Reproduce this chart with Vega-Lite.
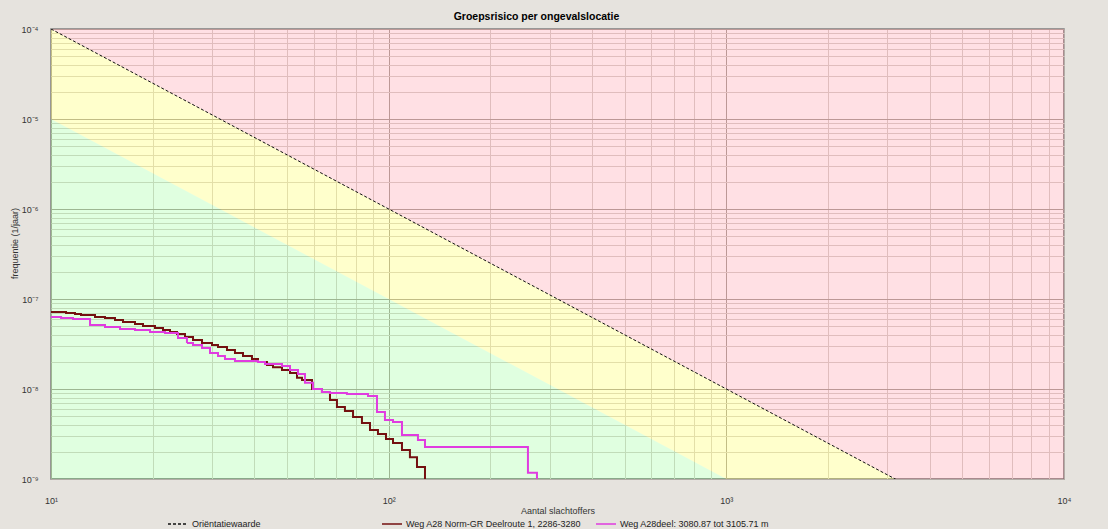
{
  "$schema": "https://vega.github.io/schema/vega-lite/v6.json",
  "width": 1013,
  "height": 450,
  "autosize": {"type": "none"},
  "padding": {"left": 51, "top": 29, "right": 44, "bottom": 50},
  "background": "#e6e3de",
  "config": {
    "font": "Liberation Sans",
    "view": {"fill": "white", "stroke": "#7f7f7f", "strokeWidth": 1.5}
  },
  "title": {
    "text": "Groepsrisico per ongevalslocatie",
    "fontSize": 10.5,
    "fontWeight": "bold",
    "font": "Liberation Sans",
    "color": "#000000",
    "anchor": "middle",
    "dx": -21,
    "offset": 3
  },
  "datasets": {
    "zones": [
      {"zone": "rood", "N": 10, "F": 1e-4, "F2": 1e-4},
      {"zone": "rood", "N": 10000, "F": 1e-4, "F2": 1e-10},
      {"zone": "geel", "N": 10, "F": 1e-4, "F2": 1e-5},
      {"zone": "geel", "N": 10000, "F": 1e-10, "F2": 1e-11},
      {"zone": "groen", "N": 10, "F": 1e-5, "F2": 1e-12},
      {"zone": "groen", "N": 10000, "F": 1e-11, "F2": 1e-12}
    ],
    "norm": [
      {"serie": "Oriëntatiewaarde", "N": 10, "F": 1e-4},
      {"serie": "Oriëntatiewaarde", "N": 10000, "F": 1e-10}
    ],
    "curves": [
      {"serie": "Weg A28 Norm-GR Deelroute 1, 2286-3280", "N": 10, "F": 7.17e-8},
      {"serie": "Weg A28 Norm-GR Deelroute 1, 2286-3280", "N": 11.08, "F": 6.99e-8},
      {"serie": "Weg A28 Norm-GR Deelroute 1, 2286-3280", "N": 11.78, "F": 6.81e-8},
      {"serie": "Weg A28 Norm-GR Deelroute 1, 2286-3280", "N": 12.27, "F": 6.64e-8},
      {"serie": "Weg A28 Norm-GR Deelroute 1, 2286-3280", "N": 13.5, "F": 6.31e-8},
      {"serie": "Weg A28 Norm-GR Deelroute 1, 2286-3280", "N": 14.45, "F": 6.15e-8},
      {"serie": "Weg A28 Norm-GR Deelroute 1, 2286-3280", "N": 15.47, "F": 5.84e-8},
      {"serie": "Weg A28 Norm-GR Deelroute 1, 2286-3280", "N": 16.34, "F": 5.55e-8},
      {"serie": "Weg A28 Norm-GR Deelroute 1, 2286-3280", "N": 17.73, "F": 5.27e-8},
      {"serie": "Weg A28 Norm-GR Deelroute 1, 2286-3280", "N": 18.73, "F": 5.01e-8},
      {"serie": "Weg A28 Norm-GR Deelroute 1, 2286-3280", "N": 20.32, "F": 4.76e-8},
      {"serie": "Weg A28 Norm-GR Deelroute 1, 2286-3280", "N": 21.46, "F": 4.52e-8},
      {"serie": "Weg A28 Norm-GR Deelroute 1, 2286-3280", "N": 22.51, "F": 4.3e-8},
      {"serie": "Weg A28 Norm-GR Deelroute 1, 2286-3280", "N": 23.61, "F": 4.08e-8},
      {"serie": "Weg A28 Norm-GR Deelroute 1, 2286-3280", "N": 24.94, "F": 3.78e-8},
      {"serie": "Weg A28 Norm-GR Deelroute 1, 2286-3280", "N": 26.34, "F": 3.5e-8},
      {"serie": "Weg A28 Norm-GR Deelroute 1, 2286-3280", "N": 28.0, "F": 3.24e-8},
      {"serie": "Weg A28 Norm-GR Deelroute 1, 2286-3280", "N": 29.98, "F": 3.08e-8},
      {"serie": "Weg A28 Norm-GR Deelroute 1, 2286-3280", "N": 31.23, "F": 2.93e-8},
      {"serie": "Weg A28 Norm-GR Deelroute 1, 2286-3280", "N": 33.2, "F": 2.71e-8},
      {"serie": "Weg A28 Norm-GR Deelroute 1, 2286-3280", "N": 35.06, "F": 2.51e-8},
      {"serie": "Weg A28 Norm-GR Deelroute 1, 2286-3280", "N": 37.03, "F": 2.33e-8},
      {"serie": "Weg A28 Norm-GR Deelroute 1, 2286-3280", "N": 39.37, "F": 2.15e-8},
      {"serie": "Weg A28 Norm-GR Deelroute 1, 2286-3280", "N": 41.02, "F": 2.0e-8},
      {"serie": "Weg A28 Norm-GR Deelroute 1, 2286-3280", "N": 43.61, "F": 1.85e-8},
      {"serie": "Weg A28 Norm-GR Deelroute 1, 2286-3280", "N": 45.44, "F": 1.75e-8},
      {"serie": "Weg A28 Norm-GR Deelroute 1, 2286-3280", "N": 48.31, "F": 1.63e-8},
      {"serie": "Weg A28 Norm-GR Deelroute 1, 2286-3280", "N": 51.03, "F": 1.51e-8},
      {"serie": "Weg A28 Norm-GR Deelroute 1, 2286-3280", "N": 53.52, "F": 1.33e-8},
      {"serie": "Weg A28 Norm-GR Deelroute 1, 2286-3280", "N": 55.37, "F": 1.26e-8},
      {"serie": "Weg A28 Norm-GR Deelroute 1, 2286-3280", "N": 59.29, "F": 1.0e-8},
      {"serie": "Weg A28 Norm-GR Deelroute 1, 2286-3280", "N": 63.45, "F": 9.26e-9},
      {"serie": "Weg A28 Norm-GR Deelroute 1, 2286-3280", "N": 67.02, "F": 7.54e-9},
      {"serie": "Weg A28 Norm-GR Deelroute 1, 2286-3280", "N": 70.28, "F": 6.31e-9},
      {"serie": "Weg A28 Norm-GR Deelroute 1, 2286-3280", "N": 74.21, "F": 5.69e-9},
      {"serie": "Weg A28 Norm-GR Deelroute 1, 2286-3280", "N": 78.43, "F": 4.89e-9},
      {"serie": "Weg A28 Norm-GR Deelroute 1, 2286-3280", "N": 83.34, "F": 4.19e-9},
      {"serie": "Weg A28 Norm-GR Deelroute 1, 2286-3280", "N": 88.04, "F": 3.5e-9},
      {"serie": "Weg A28 Norm-GR Deelroute 1, 2286-3280", "N": 92.96, "F": 3.16e-9},
      {"serie": "Weg A28 Norm-GR Deelroute 1, 2286-3280", "N": 98.18, "F": 2.78e-9},
      {"serie": "Weg A28 Norm-GR Deelroute 1, 2286-3280", "N": 103.0, "F": 2.51e-9},
      {"serie": "Weg A28 Norm-GR Deelroute 1, 2286-3280", "N": 109.5, "F": 2.1e-9},
      {"serie": "Weg A28 Norm-GR Deelroute 1, 2286-3280", "N": 115.6, "F": 1.75e-9},
      {"serie": "Weg A28 Norm-GR Deelroute 1, 2286-3280", "N": 121.3, "F": 1.36e-9},
      {"serie": "Weg A28 Norm-GR Deelroute 1, 2286-3280", "N": 128.1, "F": 1e-10},
      {"serie": "Weg A28deel: 3080.87 tot 3105.71 m", "N": 10, "F": 6.31e-8},
      {"serie": "Weg A28deel: 3080.87 tot 3105.71 m", "N": 10.71, "F": 6.15e-8},
      {"serie": "Weg A28deel: 3080.87 tot 3105.71 m", "N": 11.62, "F": 5.99e-8},
      {"serie": "Weg A28deel: 3080.87 tot 3105.71 m", "N": 13.05, "F": 5.14e-8},
      {"serie": "Weg A28deel: 3080.87 tot 3105.71 m", "N": 14.45, "F": 4.89e-8},
      {"serie": "Weg A28deel: 3080.87 tot 3105.71 m", "N": 16.01, "F": 4.64e-8},
      {"serie": "Weg A28deel: 3080.87 tot 3105.71 m", "N": 17.73, "F": 4.52e-8},
      {"serie": "Weg A28deel: 3080.87 tot 3105.71 m", "N": 19.64, "F": 4.3e-8},
      {"serie": "Weg A28deel: 3080.87 tot 3105.71 m", "N": 21.76, "F": 4.19e-8},
      {"serie": "Weg A28deel: 3080.87 tot 3105.71 m", "N": 23.77, "F": 3.69e-8},
      {"serie": "Weg A28deel: 3080.87 tot 3105.71 m", "N": 25.27, "F": 3.24e-8},
      {"serie": "Weg A28deel: 3080.87 tot 3105.71 m", "N": 26.34, "F": 3.08e-8},
      {"serie": "Weg A28deel: 3080.87 tot 3105.71 m", "N": 28.0, "F": 2.85e-8},
      {"serie": "Weg A28deel: 3080.87 tot 3105.71 m", "N": 29.57, "F": 2.51e-8},
      {"serie": "Weg A28deel: 3080.87 tot 3105.71 m", "N": 31.23, "F": 2.33e-8},
      {"serie": "Weg A28deel: 3080.87 tot 3105.71 m", "N": 32.75, "F": 2.15e-8},
      {"serie": "Weg A28deel: 3080.87 tot 3105.71 m", "N": 35.06, "F": 2.05e-8},
      {"serie": "Weg A28deel: 3080.87 tot 3105.71 m", "N": 41.02, "F": 2.0e-8},
      {"serie": "Weg A28deel: 3080.87 tot 3105.71 m", "N": 43.02, "F": 1.9e-8},
      {"serie": "Weg A28deel: 3080.87 tot 3105.71 m", "N": 48.31, "F": 1.8e-8},
      {"serie": "Weg A28deel: 3080.87 tot 3105.71 m", "N": 51.03, "F": 1.63e-8},
      {"serie": "Weg A28deel: 3080.87 tot 3105.71 m", "N": 53.88, "F": 1.47e-8},
      {"serie": "Weg A28deel: 3080.87 tot 3105.71 m", "N": 56.51, "F": 1.17e-8},
      {"serie": "Weg A28deel: 3080.87 tot 3105.71 m", "N": 59.69, "F": 1.0e-8},
      {"serie": "Weg A28deel: 3080.87 tot 3105.71 m", "N": 63.45, "F": 9.26e-9},
      {"serie": "Weg A28deel: 3080.87 tot 3105.71 m", "N": 67.02, "F": 9.03e-9},
      {"serie": "Weg A28deel: 3080.87 tot 3105.71 m", "N": 75.23, "F": 8.8e-9},
      {"serie": "Weg A28deel: 3080.87 tot 3105.71 m", "N": 86.85, "F": 8.36e-9},
      {"serie": "Weg A28deel: 3080.87 tot 3105.71 m", "N": 92.34, "F": 5.55e-9},
      {"serie": "Weg A28deel: 3080.87 tot 3105.71 m", "N": 97.5, "F": 4.52e-9},
      {"serie": "Weg A28deel: 3080.87 tot 3105.71 m", "N": 103.0, "F": 4.3e-9},
      {"serie": "Weg A28deel: 3080.87 tot 3105.71 m", "N": 109.5, "F": 3.08e-9},
      {"serie": "Weg A28deel: 3080.87 tot 3105.71 m", "N": 122.1, "F": 2.71e-9},
      {"serie": "Weg A28deel: 3080.87 tot 3105.71 m", "N": 128.1, "F": 2.27e-9},
      {"serie": "Weg A28deel: 3080.87 tot 3105.71 m", "N": 258.5, "F": 1.17e-9},
      {"serie": "Weg A28deel: 3080.87 tot 3105.71 m", "N": 274.9, "F": 1e-10}
    ]
  },
  "encoding": {
    "x": {
      "field": "N",
      "type": "quantitative",
      "scale": {"type": "log", "domain": [10, 10000], "nice": false, "zero": false},
      "axis": {
        "title": "Aantal slachtoffers",
        "values": [10, 20, 30, 40, 50, 60, 70, 80, 90, 100, 200, 300, 400, 500, 600, 700, 800, 900, 1000, 2000, 3000, 4000, 5000, 6000, 7000, 8000, 9000, 10000],
        "labelExpr": "abs(log(datum.value)/LN10 - round(log(datum.value)/LN10)) < 0.01 ? '10' + ['⁰','¹','²','³','⁴'][round(log(datum.value)/LN10)] : ''",
        "labelOverlap": false,
        "labelFlush": false,
        "labelFontSize": 9,
        "labelColor": "#333333",
        "labelPadding": 17,
        "labelDx": -4,
        "ticks": false,
        "domain": false,
        "grid": true,
        "gridColor": {"condition": {"test": "abs(log(datum.value)/LN10 - round(log(datum.value)/LN10)) < 0.01", "value": "#b3ada7"}, "value": "#dcd8d3"},
        "gridWidth": 1,
        "titleFontSize": 9,
        "titleFontWeight": "normal",
        "titleColor": "#333333",
        "titleY": 27,
        "titleBaseline": "top"
      }
    },
    "y": {
      "field": "F",
      "type": "quantitative",
      "scale": {"type": "log", "domain": [1e-9, 1e-4], "nice": false, "zero": false},
      "axis": {
        "title": "frequentie (1/jaar)",
        "values": [1e-9, 2e-9, 3e-9, 4e-9, 5e-9, 6e-9, 7e-9, 8e-9, 9e-9, 1e-8, 2e-8, 3e-8, 4e-8, 5e-8, 6e-8, 7e-8, 8e-8, 9e-8, 1e-7, 2e-7, 3e-7, 4e-7, 5e-7, 6e-7, 7e-7, 8e-7, 9e-7, 1e-6, 2e-6, 3e-6, 4e-6, 5e-6, 6e-6, 7e-6, 8e-6, 9e-6, 1e-5, 2e-5, 3e-5, 4e-5, 5e-5, 6e-5, 7e-5, 8e-5, 9e-5, 1e-4],
        "labelExpr": "abs(log(datum.value)/LN10 - round(log(datum.value)/LN10)) < 0.01 ? '10⁻' + ['⁰','¹','²','³','⁴','⁵','⁶','⁷','⁸','⁹'][-round(log(datum.value)/LN10)] : ''",
        "labelOverlap": false,
        "labelFlush": false,
        "labelFontSize": 9,
        "labelColor": "#333333",
        "labelPadding": 13,
        "ticks": false,
        "domain": false,
        "grid": true,
        "gridColor": {"condition": {"test": "abs(log(datum.value)/LN10 - round(log(datum.value)/LN10)) < 0.01", "value": "#b3ada7"}, "value": "#dcd8d3"},
        "gridWidth": 1,
        "titleFontSize": 9,
        "titleFontWeight": "normal",
        "titleColor": "#333333",
        "titleX": -37,
        "titleY": 214,
        "titleAngle": 270,
        "titleAlign": "center",
        "titleBaseline": "middle"
      }
    }
  },
  "layer": [
    {
      "data": {"name": "zones"},
      "transform": [{"filter": "datum.zone === 'rood'"}],
      "mark": {"type": "area", "clip": true, "color": "#ff0020", "opacity": 0.122},
      "encoding": {"y2": {"field": "F2"}}
    },
    {
      "data": {"name": "zones"},
      "transform": [{"filter": "datum.zone === 'geel'"}],
      "mark": {"type": "area", "clip": true, "color": "#ffff00", "opacity": 0.2},
      "encoding": {"y2": {"field": "F2"}}
    },
    {
      "data": {"name": "zones"},
      "transform": [{"filter": "datum.zone === 'groen'"}],
      "mark": {"type": "area", "clip": true, "color": "#00ff00", "opacity": 0.122},
      "encoding": {"y2": {"field": "F2"}}
    },
    {
      "data": {"name": "norm"},
      "mark": {"type": "line", "clip": true, "interpolate": "linear"},
      "encoding": {
        "color": {"field": "serie", "type": "nominal", "scale": {"domain": ["Oriëntatiewaarde", "Weg A28 Norm-GR Deelroute 1, 2286-3280", "Weg A28deel: 3080.87 tot 3105.71 m"], "range": ["#111111", "#741010", "#e03ce0"]}, "legend": {"orient": "none", "legendX": 116, "legendY": 484, "direction": "horizontal", "columns": 3, "gridAlign": "all", "columnPadding": 12, "title": null, "symbolType": "stroke", "symbolSize": 400, "labelFontSize": 9, "labelOffset": 3, "labelLimit": 400, "labelColor": "#222222", "symbolStrokeWidth": 1.5}},
        "strokeDash": {"field": "serie", "type": "nominal", "scale": {"domain": ["Oriëntatiewaarde", "Weg A28 Norm-GR Deelroute 1, 2286-3280", "Weg A28deel: 3080.87 tot 3105.71 m"], "range": [[3, 2], [1, 0], [1, 0]]}, "legend": {"orient": "none", "legendX": 116, "legendY": 484, "direction": "horizontal", "columns": 3, "gridAlign": "all", "columnPadding": 12, "title": null, "symbolType": "stroke", "symbolSize": 400, "labelFontSize": 9, "labelOffset": 3, "labelLimit": 400, "labelColor": "#222222", "symbolStrokeWidth": 1.5}},
        "strokeWidth": {"value": 1}
      }
    },
    {
      "data": {"name": "curves"},
      "mark": {"type": "line", "clip": true, "interpolate": "step-after", "strokeWidth": 2},
      "encoding": {
        "color": {"field": "serie", "type": "nominal"},
        "strokeDash": {"field": "serie", "type": "nominal"}
      }
    }
  ]
}
